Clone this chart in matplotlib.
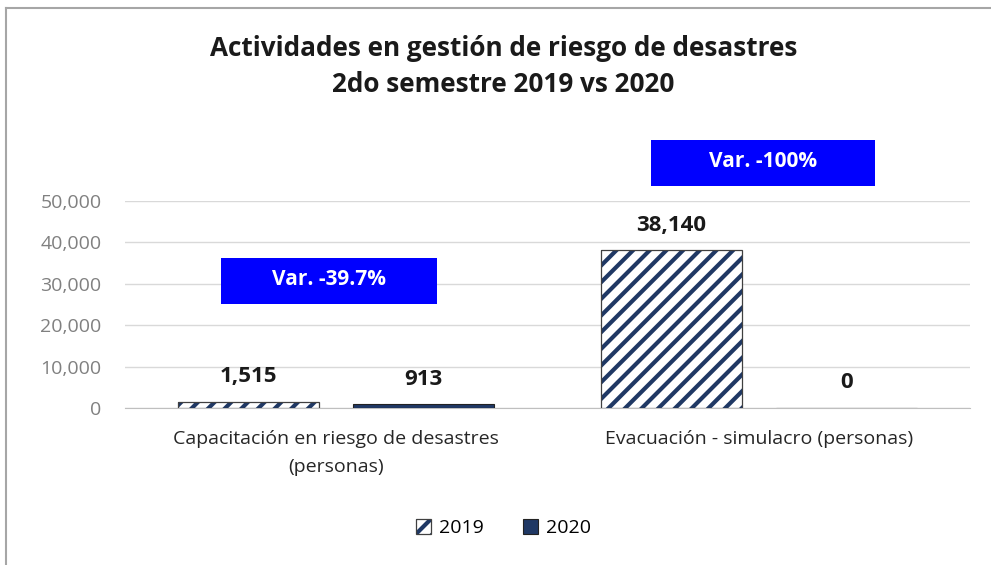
import matplotlib
matplotlib.use("Agg")
import matplotlib.pyplot as plt
from matplotlib.patches import Rectangle, Patch
from matplotlib.lines import Line2D
from matplotlib.legend_handler import HandlerTuple
import numpy as np

categories = ["Capacitación en riesgo de desastres\n(personas)", "Evacuación - simulacro (personas)"]
values_2019 = [1515, 38140]
values_2020 = [913, 0]
series_labels = ["2019", "2020"]
var_labels = ["Var. -39.7%", "Var. -100%"]
yticks = [0, 10000, 20000, 30000, 40000, 50000]

plt.rcParams['font.family'] = ['Open Sans', 'DejaVu Sans']
plt.rcParams['hatch.linewidth'] = 3.0

navy = '#1F3864'
fig = plt.figure(figsize=(9.91, 5.65), dpi=100)
ax = fig.add_axes([125/991, 1-408/565, (970-125)/991, (408-201)/565])

x = np.arange(len(categories))
w = 0.333
off = 0.207
# hatched fill (hatch takes edge colour), then outline on top
b1 = ax.bar(x - off, values_2019, w, color='white', edgecolor=navy, linewidth=0, hatch='//', zorder=3)
ax.bar(x - off, values_2019, w, fill=False, edgecolor='#404040', linewidth=0.9, zorder=4)
b2 = ax.bar(x + off, values_2020, w, color=navy, edgecolor='#222222', linewidth=0.8, zorder=3)

ax.set_xlim(-0.5, 1.5)
ax.set_ylim(0, 50000)
ax.set_yticks(yticks)
ax.set_yticklabels([f"{v:,}" for v in yticks], color='#808080', fontsize=14)
ax.yaxis.grid(True, color='#D9D9D9', linewidth=1, zorder=0)
ax.set_axisbelow(True)
for s in ['top', 'right', 'left']:
    ax.spines[s].set_visible(False)
ax.spines['bottom'].set_color('#BFBFBF')
ax.tick_params(axis='y', length=0, pad=17)
ax.tick_params(axis='x', length=0, pad=16)
ax.set_xticks(x)
ax.set_xticklabels(categories, fontsize=14, color='#262626', linespacing=1.7)

for bars, vals in ((b1, values_2019), (b2, values_2020)):
    for r, v in zip(bars, vals):
        ax.annotate(f"{v:,}", (r.get_x() + r.get_width()/2, v), xytext=(0, 18),
                    textcoords='offset points', ha='center', va='center',
                    fontsize=16, fontweight='bold', color='#1a1a1a')

# variation boxes
box_pos = [(-0.017, 30700), (1.01, 59200)]
box_w = [0.51, 0.53]
for (cx, cy), bw, txt in zip(box_pos, box_w, var_labels):
    ax.add_patch(Rectangle((cx - bw/2, cy - 5500), bw, 11000, facecolor='#0000FF',
                           edgecolor='none', clip_on=False, zorder=5))
    ax.text(cx, cy + 300, txt, ha='center', va='center', color='white', fontsize=15,
            fontweight='bold', zorder=6, clip_on=False)

fig.text(0.508, 1-48/565, "Actividades en gestión de riesgo de desastres", ha='center', va='center',
         fontsize=18.8, fontweight='bold', color='#1a1a1a')
fig.text(0.508, 1-85/565, "2do semestre 2019 vs 2020", ha='center', va='center',
         fontsize=18.8, fontweight='bold', color='#1a1a1a')

h1 = (Patch(facecolor='white', edgecolor=navy, linewidth=0, hatch='//'),
      Patch(fill=False, edgecolor='#404040', linewidth=0.9))
h2 = Patch(facecolor=navy, edgecolor='#222222', linewidth=0.8)
fig.legend(handles=[h1, h2], labels=series_labels, handler_map={tuple: HandlerTuple(ndivide=1, pad=0)},
           loc='center', bbox_to_anchor=(0.508, 1-528/565), ncol=2, frameon=False,
           fontsize=14, handlelength=0.78, handleheight=0.78, handletextpad=0.4, columnspacing=2.0)

# outer border lines
fig.add_artist(Line2D([6/991, 6/991], [0, 1-8/565], color='#A6A6A6', linewidth=1.5, transform=fig.transFigure))
fig.add_artist(Line2D([6/991, 1], [1-8/565, 1-8/565], color='#A6A6A6', linewidth=1.5, transform=fig.transFigure))

fig.savefig("out.png", dpi=100)
